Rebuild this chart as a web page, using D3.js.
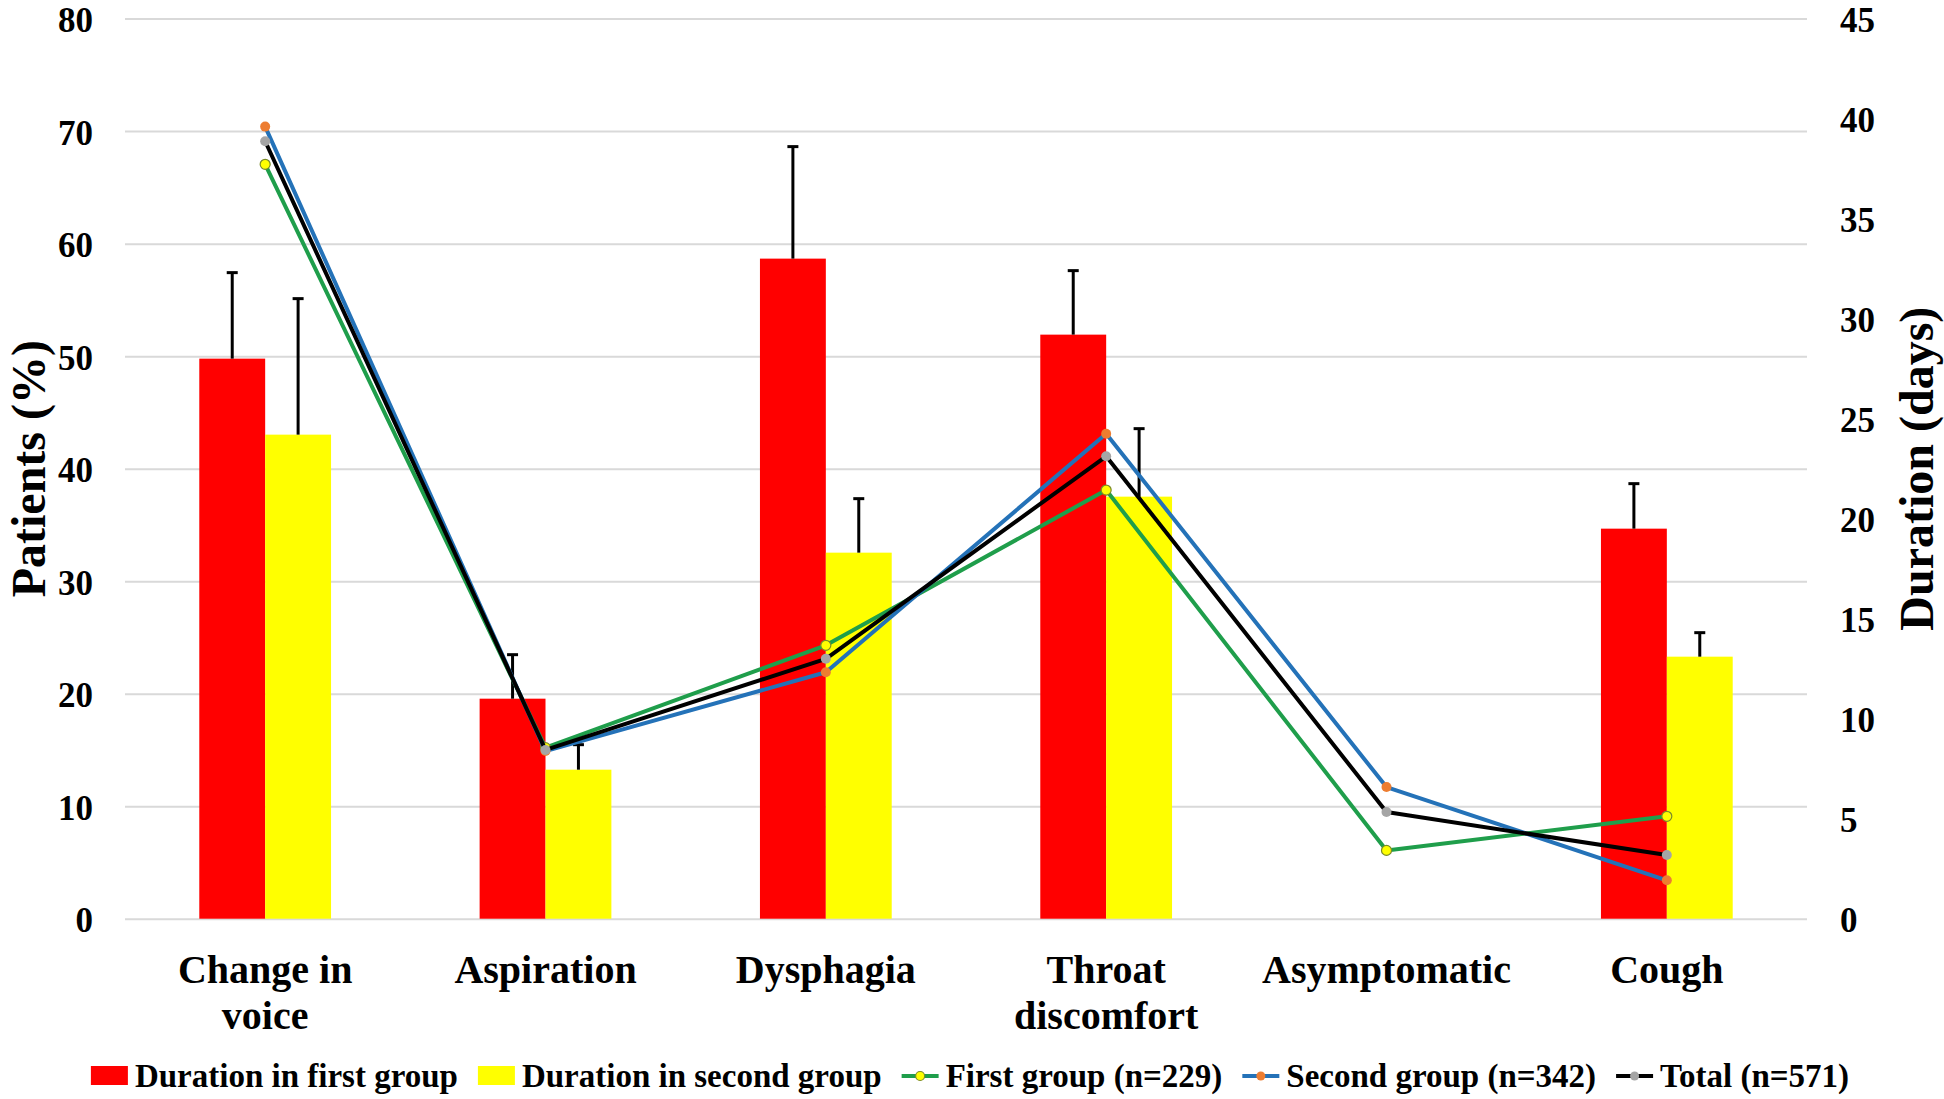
<!DOCTYPE html>
<html><head><meta charset="utf-8">
<script src="https://cdn.jsdelivr.net/npm/d3@7"></script>
<style>body{margin:0;background:#fff}</style>
</head><body><svg id="chart" width="1944" height="1099"></svg>
<script>
const categories = ["Change in voice","Aspiration","Dysphagia","Throat discomfort","Asymptomatic","Cough"];
const categoryLines = [["Change in","voice"],["Aspiration"],["Dysphagia"],["Throat","discomfort"],["Asymptomatic"],["Cough"]];
const durationFirst = [28.0, 11.0, 33.0, 29.2, null, 19.5];
const durationFirstErr = [4.3, 2.2, 5.6, 3.2, null, 2.25];
const durationSecond = [24.2, 7.45, 18.3, 21.1, null, 13.1];
const durationSecondErr = [6.8, 1.25, 2.7, 3.4, null, 1.2];
const firstGroup = [67.05, 15.2, 24.3, 38.1, 6.07, 9.1];
const secondGroup = [70.4, 14.9, 21.9, 43.1, 11.7, 3.41];
const totalGroup = [69.1, 15.0, 23.1, 41.1, 9.48, 5.66];
const leftTicks = [0,10,20,30,40,50,60,70,80];
const rightTicks = [0,5,10,15,20,25,30,35,40,45];
const barSeries = ["Duration in first group","Duration in second group"];
const lineSeries = ["First group (n=229)","Second group (n=342)","Total (n=571)"];

const FONT = "'Liberation Serif','Times New Roman',serif";
const margin = {left:125, top:18.6, right:137, bottom:180.3};
const W = 1944, H = 1099;
const width = W - margin.left - margin.right;
const height = H - margin.top - margin.bottom;

const svg = d3.select("#chart");
const g = svg.append("g").attr("transform", `translate(${margin.left},${margin.top})`);

const x = d3.scaleBand().domain(categories).range([0, width]).paddingInner(0).paddingOuter(0);
const pairW = x.bandwidth() * 0.47;
const xs = d3.scaleBand().domain(["first","second"]).range([(x.bandwidth()-pairW)/2, (x.bandwidth()+pairW)/2]);
const yL = d3.scaleLinear().domain([0,80]).range([height,0]);
const yR = d3.scaleLinear().domain([0,45]).range([height,0]);

// left axis + gridlines
const axL = g.append("g").call(d3.axisLeft(yL).tickValues(leftTicks).tickSize(-width).tickPadding(32).tickFormat(d3.format("d")));
axL.select(".domain").remove();
axL.selectAll(".tick line").attr("stroke","#d9d9d9").attr("stroke-width",2);
axL.selectAll(".tick text").attr("font-family",FONT).attr("font-weight","bold").attr("font-size",35).attr("dy","0.37em").attr("fill","#000");

// right axis
const axR = g.append("g").attr("transform",`translate(${width},0)`).call(d3.axisRight(yR).tickValues(rightTicks).tickSize(0).tickPadding(33).tickFormat(d3.format("d")));
axR.select(".domain").remove();
axR.selectAll(".tick text").attr("font-family",FONT).attr("font-weight","bold").attr("font-size",35).attr("dy","0.37em").attr("fill","#000");

// bars
const barData = [];
categories.forEach((c,i)=>{
  if (durationFirst[i] != null) barData.push({c, k:"first", v:durationFirst[i], e:durationFirstErr[i], color:"#ff0000"});
  if (durationSecond[i] != null) barData.push({c, k:"second", v:durationSecond[i], e:durationSecondErr[i], color:"#ffff00"});
});
g.append("g").selectAll("rect").data(barData).join("rect")
  .attr("x", d => x(d.c) + xs(d.k))
  .attr("y", d => yR(d.v))
  .attr("width", xs.bandwidth())
  .attr("height", d => yR(0) - yR(d.v))
  .attr("fill", d => d.color);

// error bars
const eb = g.append("g").attr("stroke","#000").attr("stroke-width",3);
barData.forEach(d=>{
  const cx = x(d.c) + xs(d.k) + xs.bandwidth()/2;
  eb.append("line").attr("x1",cx).attr("x2",cx).attr("y1",yR(d.v)).attr("y2",yR(d.v+d.e));
  eb.append("line").attr("x1",cx-5.5).attr("x2",cx+5.5).attr("y1",yR(d.v+d.e)).attr("y2",yR(d.v+d.e));
});

// lines
const lineDefs = [
  {name:lineSeries[0], vals:firstGroup, stroke:"#1f9e4b", fill:"#ffff00", mstroke:"#7a8a2a"},
  {name:lineSeries[1], vals:secondGroup, stroke:"#2472b8", fill:"#ed7d31", mstroke:"none"},
  {name:lineSeries[2], vals:totalGroup, stroke:"#000000", fill:"#a5a5a5", mstroke:"none"}
];
const cxCat = c => x(c) + x.bandwidth()/2;
const lineGen = d3.line().x((d,i)=>cxCat(categories[i])).y(d=>yL(d));
lineDefs.forEach(s=>{
  g.append("path").datum(s.vals).attr("d",lineGen).attr("fill","none").attr("stroke",s.stroke).attr("stroke-width",4).attr("stroke-linejoin","round");
  g.append("g").selectAll("circle").data(s.vals).join("circle")
    .attr("cx",(d,i)=>cxCat(categories[i])).attr("cy",d=>yL(d)).attr("r",5)
    .attr("fill",s.fill).attr("stroke",s.mstroke).attr("stroke-width",1.2);
});

// x labels
const xl = g.append("g");
categories.forEach((c,i)=>{
  const t = xl.append("text").attr("x",cxCat(c)).attr("text-anchor","middle")
    .attr("font-family",FONT).attr("font-weight","bold").attr("font-size",40).attr("fill","#000");
  categoryLines[i].forEach((ln,j)=>{
    t.append("tspan").attr("x",cxCat(c)).attr("y", height + 64 + j*46).text(ln);
  });
});

// axis titles
svg.append("text").attr("transform",`translate(28,${margin.top+height/2}) rotate(-90)`)
  .attr("text-anchor","middle").attr("dominant-baseline","central")
  .attr("font-family",FONT).attr("font-weight","bold").attr("font-size",48).text("Patients (%)");
svg.append("text").attr("transform",`translate(1916,${margin.top+height/2}) rotate(-90)`)
  .attr("text-anchor","middle").attr("dominant-baseline","central")
  .attr("font-family",FONT).attr("font-weight","bold").attr("font-size",48).text("Duration (days)");

// legend
const legItems = [
  {type:"bar", name:barSeries[0], color:"#ff0000"},
  {type:"bar", name:barSeries[1], color:"#ffff00"},
  {type:"line", name:lineDefs[0].name, s:lineDefs[0]},
  {type:"line", name:lineDefs[1].name, s:lineDefs[1]},
  {type:"line", name:lineDefs[2].name, s:lineDefs[2]}
];
const leg = svg.append("g");
const legY = 1076;
let cur = 0;
legItems.forEach(it=>{
  const ig = leg.append("g").attr("transform",`translate(${cur},0)`);
  if (it.type==="bar") {
    ig.append("rect").attr("x",0).attr("y",legY-10).attr("width",37).attr("height",19).attr("fill",it.color);
  } else {
    ig.append("line").attr("x1",0).attr("x2",37).attr("y1",legY).attr("y2",legY).attr("stroke",it.s.stroke).attr("stroke-width",4);
    ig.append("circle").attr("cx",18.5).attr("cy",legY).attr("r",4.5).attr("fill",it.s.fill).attr("stroke",it.s.mstroke).attr("stroke-width",1.2);
  }
  const t = ig.append("text").attr("x",44).attr("y",legY+11).attr("font-family",FONT).attr("font-weight","bold").attr("font-size",33).attr("fill","#000").text(it.name);
  const tw = t.node().getComputedTextLength();
  cur += 44 + tw + 20;
});
const totalW = cur - 20;
leg.attr("transform",`translate(${970 - totalW/2},0)`);
</script></body></html>
